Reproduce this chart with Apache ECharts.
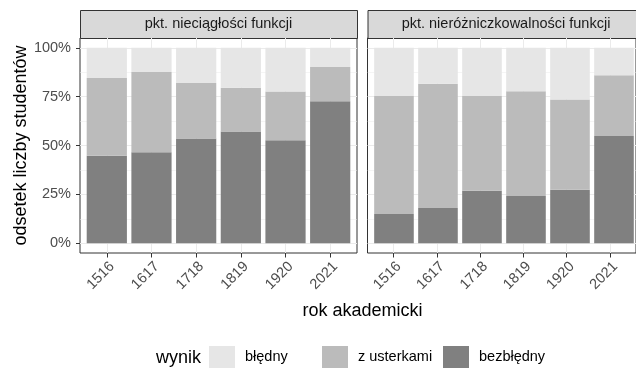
<!DOCTYPE html>
<html>
<head>
<meta charset="utf-8">
<script src="https://cdn.jsdelivr.net/npm/echarts@6/dist/echarts.min.js"></script>
<style>
  html, body { margin: 0; padding: 0; background: #ffffff; }
  #chart { width: 636px; height: 369px; }
</style>
</head>
<body>
<div id="chart"></div>
<script>
// Academic years (x categories)
const years = ['1516', '1617', '1718', '1819', '1920', '2021'];
// Facet panels
const panels = ['pkt. nieciągłości funkcji', 'pkt. nieróżniczkowalności funkcji'];
// Result categories, in legend order
const results = ['błędny', 'z usterkami', 'bezbłędny'];
const resultColors = ['#E6E6E6', '#BBBBBB', '#808080'];

// Share of students per result — discontinuity points panel
const nieciaglosc_bezbledny = [0.448, 0.465, 0.536, 0.572, 0.527, 0.727];
const nieciaglosc_usterki   = [0.397, 0.411, 0.284, 0.223, 0.249, 0.175];
const nieciaglosc_bledny    = [0.155, 0.124, 0.180, 0.205, 0.224, 0.098];

// Share of students per result — non-differentiability points panel
const nierozn_bezbledny = [0.149, 0.180, 0.268, 0.242, 0.273, 0.549];
const nierozn_usterki   = [0.604, 0.636, 0.485, 0.536, 0.462, 0.310];
const nierozn_bledny    = [0.247, 0.184, 0.247, 0.222, 0.265, 0.141];

// Y tick labels and minor gridline positions
const yTicks = [0, 0.25, 0.5, 0.75, 1];
const yMinor = [0.125, 0.375, 0.625, 0.875];

const panelData = [
  { 'bezbłędny': nieciaglosc_bezbledny, 'z usterkami': nieciaglosc_usterki, 'błędny': nieciaglosc_bledny },
  { 'bezbłędny': nierozn_bezbledny, 'z usterkami': nierozn_usterki, 'błędny': nierozn_bledny }
];

const FONT = 'Liberation Sans, Arial, sans-serif';
const panelLeft = [80, 367.5];
const panelWidth = 277;
const panelTop = 38;
const panelHeight = 215;
// discrete scale: 6 categories plus 0.6 of a band on each side
const band = panelWidth / 6.2;
const xPos = years.map((_, i) => i + 1);

// grids 0,1: panel frames (gridlines, ticks, labels); grids 2,3: bars
const grids = [];
panelLeft.forEach(l => grids.push({
  left: l, top: panelTop, width: panelWidth, height: panelHeight,
  show: true, borderColor: '#333333', borderWidth: 1, backgroundColor: 'transparent'
}));
panelLeft.forEach(l => grids.push({
  left: l + 0.1 * band, top: panelTop, width: 6 * band, height: panelHeight, show: false
}));

const xAxes = [];
panelLeft.forEach((_, p) => xAxes.push({
  type: 'value', gridIndex: p, min: 0.4, max: 6.6,
  axisLine: { show: false, onZero: false },
  axisTick: { show: true, customValues: xPos, length: 4.5, lineStyle: { color: '#333333', width: 1 } },
  axisLabel: {
    show: true, customValues: xPos, rotate: 45, margin: 6, verticalAlign: 'top',
    formatter: v => years[Math.round(v) - 1],
    fontFamily: FONT, fontSize: 14.5, color: '#4D4D4D'
  },
  splitLine: { show: true, lineStyle: { color: '#EBEBEB', width: 1 } }
}));
panelLeft.forEach((_, p) => xAxes.push({
  type: 'category', gridIndex: 2 + p, data: years, boundaryGap: true, show: false
}));

const yAxes = [];
panelLeft.forEach((_, p) => {
  yAxes.push({
    type: 'value', gridIndex: p, min: -0.05, max: 1.05,
    name: p === 0 ? 'odsetek liczby studentów' : '',
    nameLocation: 'middle', nameGap: 49, nameRotate: 90,
    nameTextStyle: { fontFamily: FONT, fontSize: 18, color: '#000000' },
    axisLine: { show: false, onZero: false },
    axisTick: { show: p === 0, customValues: yTicks, length: 4, lineStyle: { color: '#333333', width: 1 } },
    axisLabel: {
      show: p === 0, customValues: yTicks, margin: 9,
      formatter: v => Math.round(v * 100) + '%',
      fontFamily: FONT, fontSize: 14.5, color: '#4D4D4D'
    },
    splitLine: { show: true, lineStyle: { color: '#EBEBEB', width: 1 } }
  });
});
panelLeft.forEach((_, p) => {
  // minor gridlines
  yAxes.push({
    type: 'value', gridIndex: p, min: -0.05, max: 1.05,
    axisLine: { show: false, onZero: false },
    axisTick: { show: false, customValues: yMinor },
    axisLabel: { show: false, customValues: yMinor },
    splitLine: { show: true, lineStyle: { color: '#EBEBEB', width: 0.5 } }
  });
});
panelLeft.forEach((_, p) => {
  // value axis for the bars
  yAxes.push({ type: 'value', gridIndex: 2 + p, min: -0.05, max: 1.05, show: false });
});

const stackOrder = ['bezbłędny', 'z usterkami', 'błędny'];
const series = [];
panelLeft.forEach((_, p) => {
  stackOrder.forEach(r => {
    series.push({
      type: 'bar', name: r, xAxisIndex: 2 + p, yAxisIndex: 4 + p,
      stack: 'panel' + p, barWidth: '90%',
      itemStyle: { color: resultColors[results.indexOf(r)] },
      data: panelData[p][r]
    });
  });
});

const legendLeft = [209, 322, 443];
const legends = results.map((r, k) => ({
  data: [r], left: legendLeft[k], top: 346, orient: 'horizontal', padding: 0,
  itemWidth: 26, itemHeight: 22, icon: 'rect', selectedMode: false,
  textStyle: { fontFamily: FONT, fontSize: 14.5, color: '#000000', padding: [0, 0, 0, 5] }
}));

const graphics = [];
panelLeft.forEach((l, p) => {
  graphics.push({
    type: 'rect', left: l, top: 10,
    shape: { width: panelWidth, height: 28 },
    style: { fill: '#D9D9D9', stroke: '#333333', lineWidth: 1 }
  });
  graphics.push({
    type: 'text', x: l + panelWidth / 2, y: 24,
    style: { text: panels[p], fontFamily: FONT, fontSize: 14.5, fill: '#1A1A1A', align: 'center', verticalAlign: 'middle' }
  });
});
graphics.push({
  type: 'text', x: 362.5, y: 311,
  style: { text: 'rok akademicki', fontFamily: FONT, fontSize: 18, fill: '#000000', align: 'center', verticalAlign: 'middle' }
});
graphics.push({
  type: 'text', x: 156, y: 358,
  style: { text: 'wynik', fontFamily: FONT, fontSize: 18, fill: '#000000', align: 'left', verticalAlign: 'middle' }
});

const chart = echarts.init(document.getElementById('chart'), null, { renderer: 'canvas' });
chart.setOption({
  animation: false,
  backgroundColor: '#ffffff',
  grid: grids,
  xAxis: xAxes,
  yAxis: yAxes,
  legend: legends,
  series: series,
  graphic: graphics
});
</script>
</body>
</html>
